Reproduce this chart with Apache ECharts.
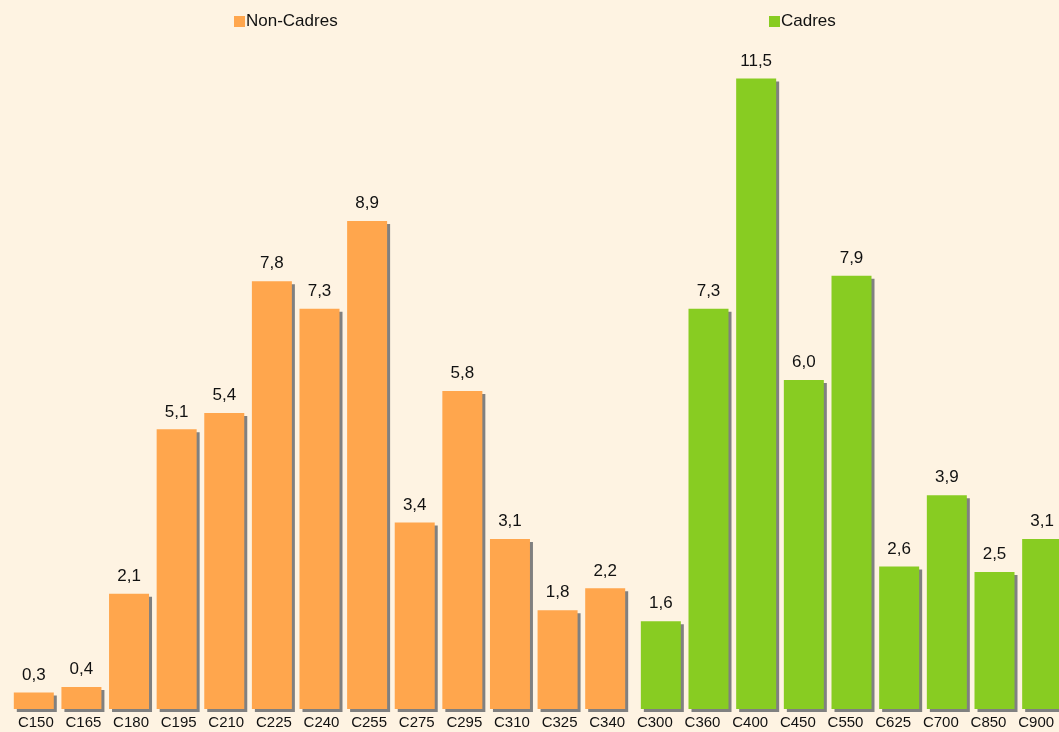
<!DOCTYPE html>
<html>
<head>
<meta charset="utf-8">
<script src="https://cdn.jsdelivr.net/npm/echarts@6/dist/echarts.min.js"></script>
<style>
  html, body { margin: 0; padding: 0; background: #fef3e2; }
  #chart { width: 1059px; height: 732px; }
</style>
</head>
<body>
<div id="chart"></div>
<script>
var nonCadresCats = ['C150', 'C165', 'C180', 'C195', 'C210', 'C225', 'C240', 'C255', 'C275', 'C295', 'C310', 'C325', 'C340'];
var nonCadresVals = [0.3, 0.4, 2.1, 5.1, 5.4, 7.8, 7.3, 8.9, 3.4, 5.8, 3.1, 1.8, 2.2];
var cadresCats = ['C300', 'C360', 'C400', 'C450', 'C550', 'C625', 'C700', 'C850', 'C900'];
var cadresVals = [1.6, 7.3, 11.5, 6.0, 7.9, 2.6, 3.9, 2.5, 3.1];

var font = 'Liberation Sans, Arial, sans-serif';

function commaLabel(p) {
  return p.value.toFixed(1).replace('.', ',');
}

function barSeries(name, data, idx, color) {
  return {
    name: name,
    type: 'bar',
    xAxisIndex: idx,
    yAxisIndex: idx,
    data: data,
    barWidth: 40,
    itemStyle: {
      color: color,
      shadowColor: '#808080',
      shadowBlur: 0,
      shadowOffsetX: 3,
      shadowOffsetY: 3,
    },
    label: {
      show: true,
      position: 'top',
      distance: 9,
      color: '#111',
      fontFamily: font,
      fontSize: 17,
      formatter: commaLabel,
    },
  };
}

function catAxis(idx, cats, pad) {
  return {
    type: 'category',
    gridIndex: idx,
    data: cats,
    axisLine: {show: false},
    axisTick: {show: false},
    axisLabel: {
      color: '#111',
      fontFamily: font,
      fontSize: 15,
      margin: 6,
      interval: 0,
      padding: pad,
    },
  };
}

function valAxis(idx) {
  return {
    type: 'value',
    gridIndex: idx,
    min: 0,
    max: 12,
    show: false,
    splitLine: {show: false},
  };
}

var legendText = {fontFamily: font, fontSize: 17, color: '#111', padding: [0, 0, 0, -4]};

var chart = echarts.init(document.getElementById('chart'));
var options = {
  backgroundColor: '#fef3e2',
  animation: false,
  legend: [
    {
      data: ['Non-Cadres'],
      left: 229,
      top: 8,
      itemWidth: 11,
      itemHeight: 11,
      icon: 'rect',
      textStyle: legendText,
    },
    {
      data: ['Cadres'],
      left: 764,
      top: 8,
      itemWidth: 11,
      itemHeight: 11,
      icon: 'rect',
      textStyle: legendText,
    },
  ],
  grid: [
    {left: 10, width: 619, top: 51, bottom: 23, outerBoundsMode: 'none'},
    {left: 637, width: 429, top: 51, bottom: 23, outerBoundsMode: 'none'},
  ],
  xAxis: [
    catAxis(0, nonCadresCats, [0, 0, 0, 4]),
    catAxis(1, cadresCats, [0, 12, 0, 0]),
  ],
  yAxis: [valAxis(0), valAxis(1)],
  series: [
    barSeries('Non-Cadres', nonCadresVals, 0, '#ffa64d'),
    barSeries('Cadres', cadresVals, 1, '#88cc22'),
  ],
};
chart.setOption(options);
</script>
</body>
</html>
